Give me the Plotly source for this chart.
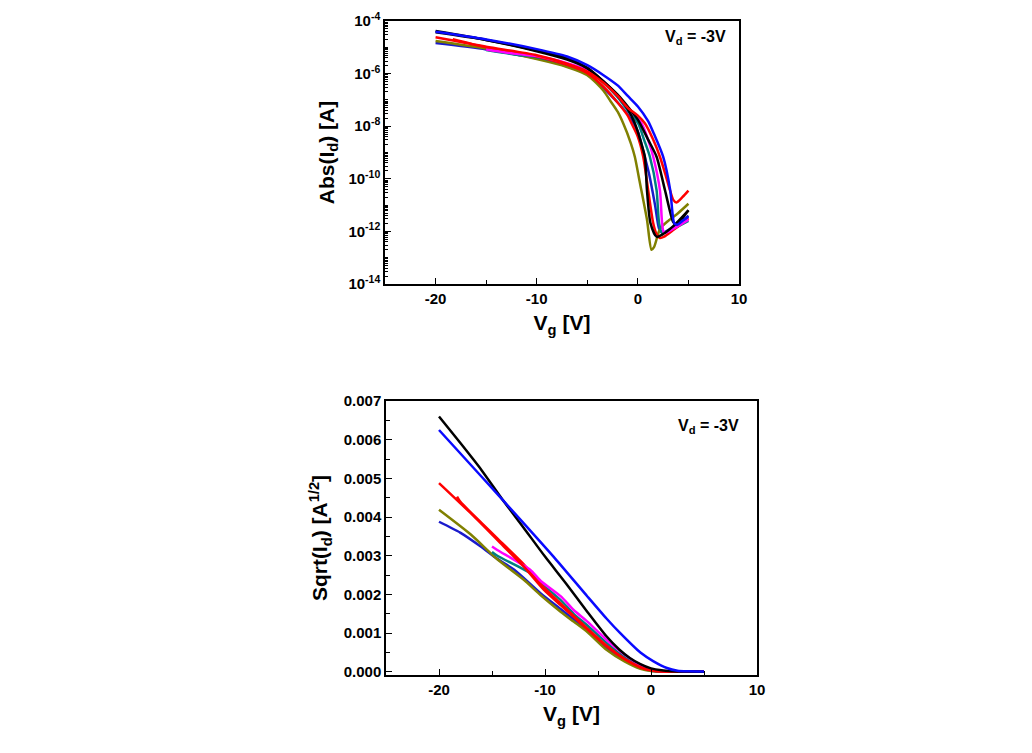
import plotly.graph_objects as go

# ---------------- Top panel: Abs(Id) vs Vg (log10 of |Id|) -------------
top_blue_vg = [-20, -15, -10, -7, -5, -3.4, -2, -1, 0, 1.0, 1.6, 2.5, 3.2, 3.6, 3.9, 4.4, 5.0]
top_blue_log = [-4.41, -4.7, -5.07, -5.35, -5.68, -6.06, -6.45, -6.85, -7.25, -7.8, -8.3, -9.16, -10.43, -11.69, -11.75, -11.6, -11.44]

top_blackB_vg = [-20, -15, -10, -7, -5, -3.4, -2, -1, 0, 1.0, 1.85, 2.68, 3.5, 3.8, 4.4, 5.0]
top_blackB_log = [-4.43, -4.72, -5.12, -5.42, -5.78, -6.3, -6.8, -7.25, -7.75, -8.5, -9.16, -10.43, -11.65, -11.75, -11.5, -11.2]

top_blackA_vg = [-20, -15, -10, -7, -5, -3.4, -2, -1, -0.3, 0.3, 0.69, 0.9, 1.25, 1.85, 2.5, 3.5, 5.0]
top_blackA_log = [-4.38, -4.72, -5.15, -5.47, -5.8, -6.3, -6.85, -7.35, -7.89, -8.6, -9.16, -10.43, -11.69, -12.2, -12.1, -11.8, -11.2]

top_red1_vg = [-20, -15, -10, -7, -5, -3.4, -2, -1, 0, 0.69, 1.5, 2.18, 2.7, 3.17, 3.5, 3.8, 4.4, 5.0]
top_red1_log = [-4.62, -4.98, -5.3, -5.62, -5.92, -6.35, -6.85, -7.3, -7.6, -7.89, -8.5, -9.16, -9.8, -10.43, -10.8, -10.9, -10.7, -10.45]

top_red2_vg = [-18.3, -15, -10, -7, -5, -3.4, -2, -1, -0.63, 0, 0.53, 1.02, 1.52, 1.85, 2.18, 2.6, 3.5, 5.0]
top_red2_log = [-4.69, -5.0, -5.35, -5.67, -5.98, -6.5, -7.1, -7.6, -7.89, -8.4, -9.16, -10.43, -11.69, -12.1, -12.25, -12.2, -11.95, -11.5]

top_olive_vg = [-20, -15, -10, -7, -5, -3.4, -2.7, -2, -1.45, -0.7, -0.3, 0.2, 0.9, 1.35, 1.6, 2.2, 3.0, 4.0, 5.0]
top_olive_log = [-4.76, -5.05, -5.45, -5.75, -6.06, -6.65, -7.05, -7.45, -7.89, -8.64, -9.16, -10.15, -11.55, -12.7, -12.6, -11.9, -11.6, -11.3, -10.95]

top_navy_vg = [-20, -15, -10, -7, -5, -3.4, -2, -1, 0, 0.5, 1.1, 1.7, 2.1, 2.4, 3, 4, 5]
top_navy_log = [-4.84, -5.08, -5.42, -5.72, -6.03, -6.55, -7.1, -7.55, -8.2, -8.9, -9.8, -11.0, -11.9, -12.05, -11.95, -11.7, -11.4]

top_magenta_vg = [-15, -12, -10, -7, -5, -3.4, -2, -1, 0.37, 1.0, 1.52, 2.18, 2.4, 2.6, 3.5, 5.0]
top_magenta_log = [-5.08, -5.25, -5.33, -5.6, -5.86, -6.3, -6.85, -7.3, -7.89, -8.5, -9.16, -10.43, -11.69, -12.06, -11.9, -11.55]

top_teal_vg = [-15, -12, -10, -7, -5, -3.4, -2, -1, 0.03, 0.6, 1.19, 1.85, 2.1, 2.4, 3.5, 5.0]
top_teal_log = [-5.1, -5.28, -5.38, -5.65, -5.9, -6.35, -6.9, -7.4, -7.89, -8.5, -9.16, -10.43, -11.69, -12.06, -11.9, -11.6]

# ---------------- Bottom panel: Sqrt(Id) vs Vg (values in units of 1e-3 A^1/2) -------------
bot_black_vg = [-20, -18, -16, -14, -12, -10, -8, -6, -4.2, -3, -2, -1, 0, 1, 2, 3.5, 5]
bot_black_val = [6.6, 5.92, 5.22, 4.45, 3.72, 2.98, 2.28, 1.55, 0.92, 0.58, 0.36, 0.2, 0.09, 0.04, 0.02, 0.01, 0.005]

bot_blue_vg = [-20, -16, -12.3, -9.2, -6, -4.2, -2.9, -1.0, 0.2, 1.5, 2.5, 3.5, 5]
bot_blue_val = [6.25, 5.05, 3.93, 2.98, 1.95, 1.38, 1.0, 0.5, 0.28, 0.1, 0.03, 0.015, 0.01]

bot_red1_vg = [-20, -17, -14.5, -12, -10.1, -8.5, -7.3, -6, -4.2, -2.5, -1.0, 0, 1, 2.5, 5]
bot_red1_val = [4.88, 4.1, 3.41, 2.72, 2.12, 1.72, 1.42, 1.1, 0.66, 0.33, 0.12, 0.04, 0.01, 0.004, 0.002]

bot_red2_vg = [-18.3, -18.0, -16, -14.5, -12, -10.1, -8.5, -7.3, -6, -4.2, -2.5, -1, 0, 1, 2.5, 5]
bot_red2_val = [4.53, 4.4, 3.85, 3.45, 2.78, 2.18, 1.76, 1.45, 1.12, 0.68, 0.34, 0.12, 0.04, 0.01, 0.004, 0.002]

bot_olive_vg = [-20, -17, -14.5, -12, -10.4, -8.5, -7.3, -6, -4.2, -2.5, -1, 0, 1, 2.5, 5]
bot_olive_val = [4.19, 3.55, 2.91, 2.38, 1.98, 1.55, 1.3, 1.03, 0.57, 0.27, 0.08, 0.02, 0.005, 0.002, 0.001]

bot_navy_vg = [-20, -18, -16.06, -14.5, -12.9, -10.4, -8.5, -7.3, -6, -4.2, -2.5, -1, 0, 1, 2.5, 5]
bot_navy_val = [3.88, 3.6, 3.24, 2.92, 2.64, 2.03, 1.62, 1.36, 1.08, 0.62, 0.3, 0.1, 0.03, 0.008, 0.003, 0.002]

bot_teal_vg = [-15, -14.5, -11.4, -10.4, -8.5, -7.3, -6, -4.2, -2.5, -1, 0, 1, 2.5, 5]
bot_teal_val = [3.1, 3.0, 2.55, 2.3, 1.85, 1.5, 1.2, 0.75, 0.38, 0.14, 0.05, 0.01, 0.004, 0.002]

bot_magenta_vg = [-15, -14.5, -11.4, -10.4, -8.5, -7.3, -6, -4.2, -2.5, -1, 0, 1, 2.5, 5]
bot_magenta_val = [3.24, 3.15, 2.64, 2.35, 1.95, 1.6, 1.3, 0.83, 0.45, 0.18, 0.07, 0.02, 0.005, 0.002]

# tick labels
x_ticks = [-20, -10, 0, 10]
top_y_exps = [-4, -6, -8, -10, -12, -14]
bot_y_ticks = [0.0, 0.001, 0.002, 0.003, 0.004, 0.005, 0.006, 0.007]

BLUE = "#0a0aff"
NAVY = "#1a1acc"
BLACK = "#000000"
RED = "#ff0000"
MAGENTA = "#ff00ff"
TEAL = "#008080"
OLIVE = "#808000"

fig = go.Figure()

top_series = [
    (top_navy_vg, top_navy_log, NAVY),
    (top_olive_vg, top_olive_log, OLIVE),
    (top_teal_vg, top_teal_log, TEAL),
    (top_red2_vg, top_red2_log, RED),
    (top_magenta_vg, top_magenta_log, MAGENTA),
    (top_blackA_vg, top_blackA_log, BLACK),
    (top_blackB_vg, top_blackB_log, BLACK),
    (top_red1_vg, top_red1_log, RED),
    (top_blue_vg, top_blue_log, BLUE),
]
for vg, lg, col in top_series:
    fig.add_trace(go.Scatter(x=vg, y=[10 ** v for v in lg], mode="lines",
                             line=dict(color=col, width=2.5, shape="spline", smoothing=0.7),
                             xaxis="x", yaxis="y", showlegend=False))

bot_series = [
    (bot_navy_vg, bot_navy_val, NAVY),
    (bot_olive_vg, bot_olive_val, OLIVE),
    (bot_teal_vg, bot_teal_val, TEAL),
    (bot_red2_vg, bot_red2_val, RED),
    (bot_magenta_vg, bot_magenta_val, MAGENTA),
    (bot_red1_vg, bot_red1_val, RED),
    (bot_black_vg, bot_black_val, BLACK),
    (bot_blue_vg, bot_blue_val, BLUE),
]
for vg, vals, col in bot_series:
    fig.add_trace(go.Scatter(x=vg, y=[v * 1e-3 for v in vals], mode="lines",
                             line=dict(color=col, width=2.5, shape="spline", smoothing=0.6),
                             xaxis="x2", yaxis="y2", showlegend=False))

# the page places the figure 8 px from the top-left corner of the window
OFF = 8
W, H = 1032 - OFF, 753 - OFF


def px_x(p):
    return (p - OFF) / W


def px_y(p):
    return 1 - (p - OFF) / H


FONT = "Arial, Liberation Sans, sans-serif"
tickfont = dict(family=FONT, size=15, color="black", weight="bold")
titlefont = dict(family=FONT, size=21, color="black", weight="bold")

minor_log_vals = []
for k in range(-14, -4):
    for m in range(2, 10):
        minor_log_vals.append(m * 10.0 ** k)
    if k % 2 != 0:
        minor_log_vals.append(10.0 ** k)

common_axis = dict(showline=True, linecolor="black", linewidth=1.5, mirror=True,
                   ticks="inside", ticklen=6, tickwidth=1.3, tickcolor="black",
                   showgrid=False, zeroline=False, tickfont=tickfont, automargin=False)

fig.update_layout(
    width=W, height=H,
    margin=dict(l=0, r=0, t=0, b=0),
    paper_bgcolor="white", plot_bgcolor="white",
    xaxis=dict(domain=[px_x(385), px_x(739)], anchor="y", range=[-25, 10],
               tickvals=x_ticks, ticktext=[str(v) for v in x_ticks],
               minor=dict(dtick=5, tick0=0, ticks="inside", ticklen=4, tickcolor="black"),
               title=dict(text="V<sub>g</sub> [V]", font=titlefont, standoff=10),
               **common_axis),
    yaxis=dict(domain=[px_y(284), px_y(21)], anchor="x", type="log", range=[-14, -4],
               tickvals=[10.0 ** e for e in top_y_exps],
               ticktext=["10<sup>%d</sup>" % e for e in top_y_exps],
               minor=dict(tickvals=minor_log_vals, ticks="inside", ticklen=3, tickcolor="black"),
               title=dict(text="Abs(I<sub>d</sub>) [A]", font=titlefont, standoff=8),
               **common_axis),
    xaxis2=dict(domain=[px_x(386), px_x(757)], anchor="y2", range=[-25, 10],
                tickvals=x_ticks, ticktext=[str(v) for v in x_ticks],
                minor=dict(dtick=5, tick0=0, ticks="inside", ticklen=4, tickcolor="black"),
                title=dict(text="V<sub>g</sub> [V]", font=titlefont, standoff=10),
                **common_axis),
    yaxis2=dict(domain=[px_y(675), px_y(401)], anchor="x2", range=[-0.00008, 0.007],
                tickvals=bot_y_ticks, ticktext=["%.3f" % v for v in bot_y_ticks],
                minor=dict(dtick=0.0005, tick0=0, ticks="inside", ticklen=4, tickcolor="black"),
                title=dict(text="Sqrt(I<sub>d</sub>) [A<sup>1/2</sup>]", font=titlefont, standoff=10),
                **common_axis),
    annotations=[
        dict(text="V<sub>d</sub> = -3V", xref="paper", yref="paper",
             x=px_x(695), y=px_y(38), showarrow=False, xanchor="center", yanchor="middle",
             font=dict(family=FONT, size=16, color="black", weight="bold")),
        dict(text="V<sub>d</sub> = -3V", xref="paper", yref="paper",
             x=px_x(708), y=px_y(426), showarrow=False, xanchor="center", yanchor="middle",
             font=dict(family=FONT, size=16, color="black", weight="bold")),
    ],
)

fig.write_html("out.html")
